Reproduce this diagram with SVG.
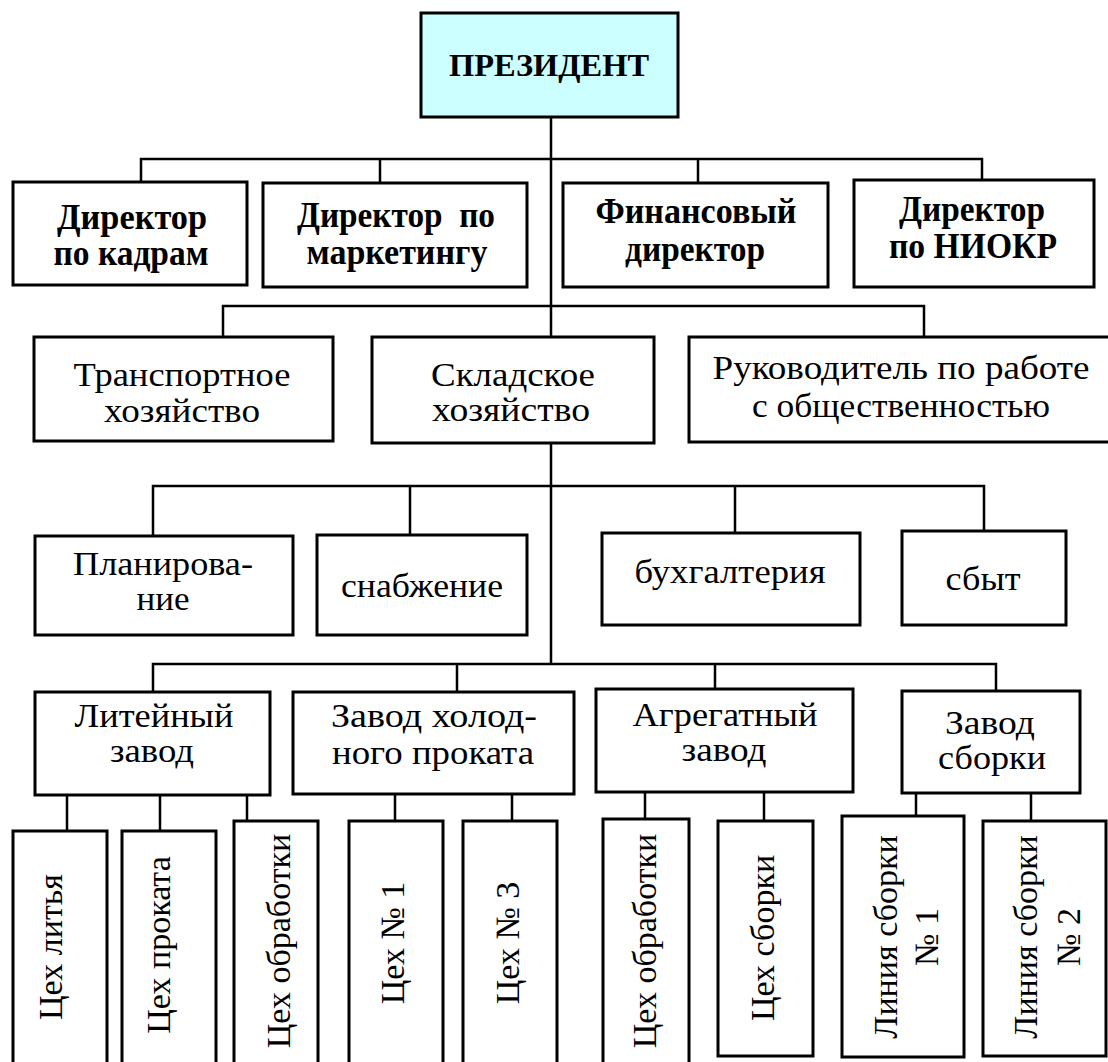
<svg xmlns="http://www.w3.org/2000/svg" width="1108" height="1062" viewBox="0 0 1108 1062">
<style>
.box{fill:#ffffff;stroke:#000;stroke-width:3}
.top{fill:#ccffff;stroke:#000;stroke-width:3}
.ln{stroke:#000;stroke-width:2.5;fill:none}
.b{font-family:"Liberation Serif","Times New Roman",serif;font-weight:bold;font-size:35px;text-anchor:middle;fill:#000}
.p{font-family:"Liberation Serif","Times New Roman",serif;font-weight:bold;font-size:32px;text-anchor:middle;fill:#000}
.r{font-family:"Liberation Serif","Times New Roman",serif;font-size:34px;text-anchor:middle;fill:#000}
.v{font-family:"Liberation Serif","Times New Roman",serif;font-size:34px;text-anchor:middle;fill:#000}
</style>
<rect width="1108" height="1062" fill="#ffffff"/>
<g id="connectors">
<path class="ln" d="M551,117 V664"/>
<path class="ln" d="M141,182 V159 H982 V180 M380,159 V183 M698,159 V183"/>
<path class="ln" d="M223,337 V306 H924 V337"/>
<path class="ln" d="M153,536 V486 H984 V531 M410,486 V535 M735,486 V533"/>
<path class="ln" d="M153,692 V664 H996 V691 M457,664 V692 M715,664 V689"/>
<path class="ln" d="M67,795 V831 M160,795 V831 M247,795 V821"/>
<path class="ln" d="M395,794 V821 M512,794 V821"/>
<path class="ln" d="M645,792 V819 M764,792 V821"/>
<path class="ln" d="M916,793 V816 M1031,793 V821"/>
</g>
<g id="president"><rect class="top" x="421" y="13" width="257" height="104"/><text class="p" x="549" y="76" textLength="200" lengthAdjust="spacingAndGlyphs">ПРЕЗИДЕНТ</text></g>
<g id="dir-kadry"><rect class="box" x="13" y="182" width="234" height="103"/><text class="b"><tspan x="132" y="229" textLength="150" lengthAdjust="spacingAndGlyphs">Директор</tspan><tspan x="131" y="265" textLength="155" lengthAdjust="spacingAndGlyphs">по кадрам</tspan></text></g>
<g id="dir-marketing"><rect class="box" x="263" y="183" width="264" height="104"/><text class="b" xml:space="preserve"><tspan x="396" y="227" textLength="198" lengthAdjust="spacingAndGlyphs">Директор  по</tspan><tspan x="397" y="264" textLength="181" lengthAdjust="spacingAndGlyphs">маркетингу</tspan></text></g>
<g id="dir-fin"><rect class="box" x="563" y="183" width="265" height="104"/><text class="b"><tspan x="696" y="223" textLength="201" lengthAdjust="spacingAndGlyphs">Финансовый</tspan><tspan x="695" y="261" textLength="140" lengthAdjust="spacingAndGlyphs">директор</tspan></text></g>
<g id="dir-niokr"><rect class="box" x="854" y="180" width="240" height="107"/><text class="b"><tspan x="972" y="221" textLength="146" lengthAdjust="spacingAndGlyphs">Директор</tspan><tspan x="973" y="258" textLength="168" lengthAdjust="spacingAndGlyphs">по НИОКР</tspan></text></g>
<g id="transport"><rect class="box" x="34" y="337" width="299" height="104"/><text class="r"><tspan x="182" y="386" textLength="217" lengthAdjust="spacingAndGlyphs">Транспортное</tspan><tspan x="182" y="422" textLength="156" lengthAdjust="spacingAndGlyphs">хозяйство</tspan></text></g>
<g id="sklad"><rect class="box" x="372" y="337" width="282" height="106"/><text class="r"><tspan x="513" y="386" textLength="164" lengthAdjust="spacingAndGlyphs">Складское</tspan><tspan x="511" y="421" textLength="158" lengthAdjust="spacingAndGlyphs">хозяйство</tspan></text></g>
<g id="pr"><rect class="box" x="689" y="337" width="426" height="105"/><text class="r"><tspan x="901" y="379" textLength="377" lengthAdjust="spacingAndGlyphs">Руководитель по работе</tspan><tspan x="901" y="417" textLength="298" lengthAdjust="spacingAndGlyphs">с общественностью</tspan></text></g>
<g id="plan"><rect class="box" x="35" y="536" width="258" height="99"/><text class="r"><tspan x="163" y="575" textLength="180" lengthAdjust="spacingAndGlyphs">Планирова-</tspan><tspan x="163" y="610" textLength="53" lengthAdjust="spacingAndGlyphs">ние</tspan></text></g>
<g id="snab"><rect class="box" x="317" y="535" width="210" height="100"/><text class="r" x="422" y="597" textLength="162" lengthAdjust="spacingAndGlyphs">снабжение</text></g>
<g id="buh"><rect class="box" x="602" y="533" width="258" height="92"/><text class="r" x="730" y="583" textLength="191" lengthAdjust="spacingAndGlyphs">бухгалтерия</text></g>
<g id="sbyt"><rect class="box" x="902" y="531" width="164" height="94"/><text class="r" x="983" y="590" textLength="75" lengthAdjust="spacingAndGlyphs">сбыт</text></g>
<g id="liteiny"><rect class="box" x="35" y="692" width="235" height="103"/><text class="r"><tspan x="154" y="727" textLength="159" lengthAdjust="spacingAndGlyphs">Литейный</tspan><tspan x="152" y="762" textLength="84" lengthAdjust="spacingAndGlyphs">завод</tspan></text></g>
<g id="prokat"><rect class="box" x="293" y="692" width="281" height="102"/><text class="r"><tspan x="434" y="727" textLength="206" lengthAdjust="spacingAndGlyphs">Завод холод-</tspan><tspan x="433" y="764" textLength="202" lengthAdjust="spacingAndGlyphs">ного проката</tspan></text></g>
<g id="agregat"><rect class="box" x="596" y="689" width="257" height="103"/><text class="r"><tspan x="725" y="726" textLength="185" lengthAdjust="spacingAndGlyphs">Агрегатный</tspan><tspan x="724" y="761" textLength="85" lengthAdjust="spacingAndGlyphs">завод</tspan></text></g>
<g id="sborka"><rect class="box" x="902" y="691" width="178" height="102"/><text class="r"><tspan x="990" y="734" textLength="90" lengthAdjust="spacingAndGlyphs">Завод</tspan><tspan x="992" y="769" textLength="108" lengthAdjust="spacingAndGlyphs">сборки</tspan></text></g>
<g id="c-litya"><rect class="box" x="13" y="831" width="94" height="250"/><text class="v" transform="translate(62,947) rotate(-90)">Цех литья</text></g>
<g id="c-prokata"><rect class="box" x="122" y="831" width="94" height="250"/><text class="v" transform="translate(170,945) rotate(-90)">Цех проката</text></g>
<g id="c-obr1"><rect class="box" x="234" y="821" width="84" height="260"/><text class="v" transform="translate(290,941) rotate(-90)">Цех обработки</text></g>
<g id="c-n1"><rect class="box" x="349" y="821" width="94" height="260"/><text class="v" transform="translate(404,943) rotate(-90)">Цех № 1</text></g>
<g id="c-n3"><rect class="box" x="463" y="821" width="94" height="260"/><text class="v" transform="translate(519,943) rotate(-90)">Цех № 3</text></g>
<g id="c-obr2"><rect class="box" x="603" y="819" width="86" height="262"/><text class="v" transform="translate(656,941) rotate(-90)">Цех обработки</text></g>
<g id="c-sborki"><rect class="box" x="718" y="821" width="95" height="235"/><text class="v" transform="translate(774,938) rotate(-90)">Цех сборки</text></g>
<g id="line1"><rect class="box" x="842" y="816" width="122" height="241"/><text class="v" transform="translate(897,937) rotate(-90)"><tspan x="0" y="0">Линия сборки</tspan><tspan x="0" y="41">№ 1</tspan></text></g>
<g id="line2"><rect class="box" x="983" y="821" width="123" height="235"/><text class="v" transform="translate(1037,937) rotate(-90)"><tspan x="0" y="0">Линия сборки</tspan><tspan x="0" y="43">№ 2</tspan></text></g>
</svg>
